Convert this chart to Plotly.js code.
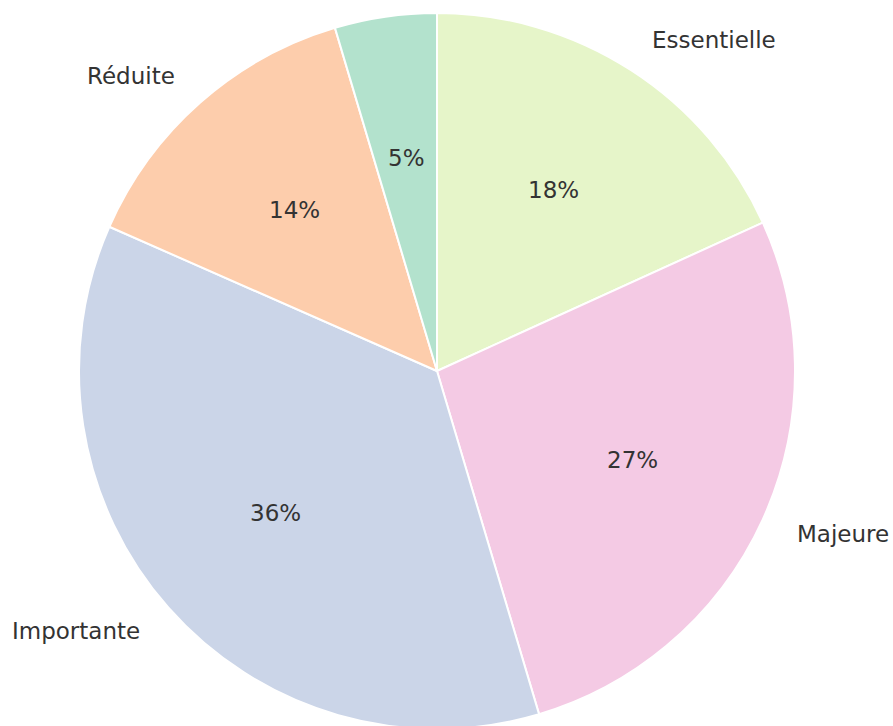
<!DOCTYPE html>
<html>
<head>
<meta charset="utf-8">
<script src="https://cdn.plot.ly/plotly-3.0.1.min.js"></script>
<style>
html,body{margin:0;padding:0;overflow:hidden;background:#fff;}
#chart{width:893px;height:740px;}
</style>
</head>
<body>
<div id="chart"></div>
<script>
// Slices in clockwise order starting at 12 o'clock
var labels = ["Essentielle", "Majeure", "Importante", "Réduite", ""];
var values = [18.2, 27.2, 36.2, 13.8, 4.6];
var colors = ["#e6f5c9", "#f4cae4", "#cbd5e8", "#fdcdac", "#b3e2cd"];

var W = 893, H = 740;
var cxPx = 437, cyPx = 371, R = 358;
var domX = [(cxPx - R) / W, (cxPx + R) / W];
var domY = [(H - (cyPx + R)) / H, (H - (cyPx - R)) / H];

var total = values.reduce(function(a, b){ return a + b; }, 0);
var annotations = [];
var ang = 90;
var fontFam = "DejaVu Sans, sans-serif";
for (var i = 0; i < values.length; i++) {
  var span = values[i] / total * 360;
  var mid = (ang - span / 2) * Math.PI / 180;
  ang -= span;
  var c = Math.cos(mid), s = Math.sin(mid);
  annotations.push({
    xref: "paper", yref: "paper",
    x: (cxPx + 0.6 * R * c) / W,
    y: (H - (cyPx - 0.6 * R * s)) / H,
    text: Math.round(values[i] / total * 100) + "%",
    showarrow: false, xanchor: "center", yanchor: "middle",
    font: {family: fontFam, size: 23, color: "#333333"}
  });
  if (labels[i]) {
    annotations.push({
      xref: "paper", yref: "paper",
      x: (cxPx + 1.1 * R * c) / W,
      y: (H - (cyPx - 1.1 * R * s)) / H,
      text: labels[i],
      showarrow: false, xanchor: c > 0 ? "left" : "right", yanchor: "middle",
      font: {family: fontFam, size: 23, color: "#333333"}
    });
  }
}

var trace = {
  type: "pie",
  labels: labels.map(function(l, i){ return l || ("s" + i); }),
  values: values,
  sort: false,
  direction: "clockwise",
  rotation: 0,
  textinfo: "none",
  hoverinfo: "none",
  marker: {colors: colors, line: {color: "#ffffff", width: 2}},
  domain: {x: domX, y: domY},
  showlegend: false
};

var layout = {
  width: W, height: H,
  margin: {l: 0, r: 0, t: 0, b: 0},
  paper_bgcolor: "#ffffff",
  showlegend: false,
  annotations: annotations,
  font: {family: fontFam}
};

Plotly.newPlot("chart", [trace], layout, {staticPlot: true});
</script>
</body>
</html>
